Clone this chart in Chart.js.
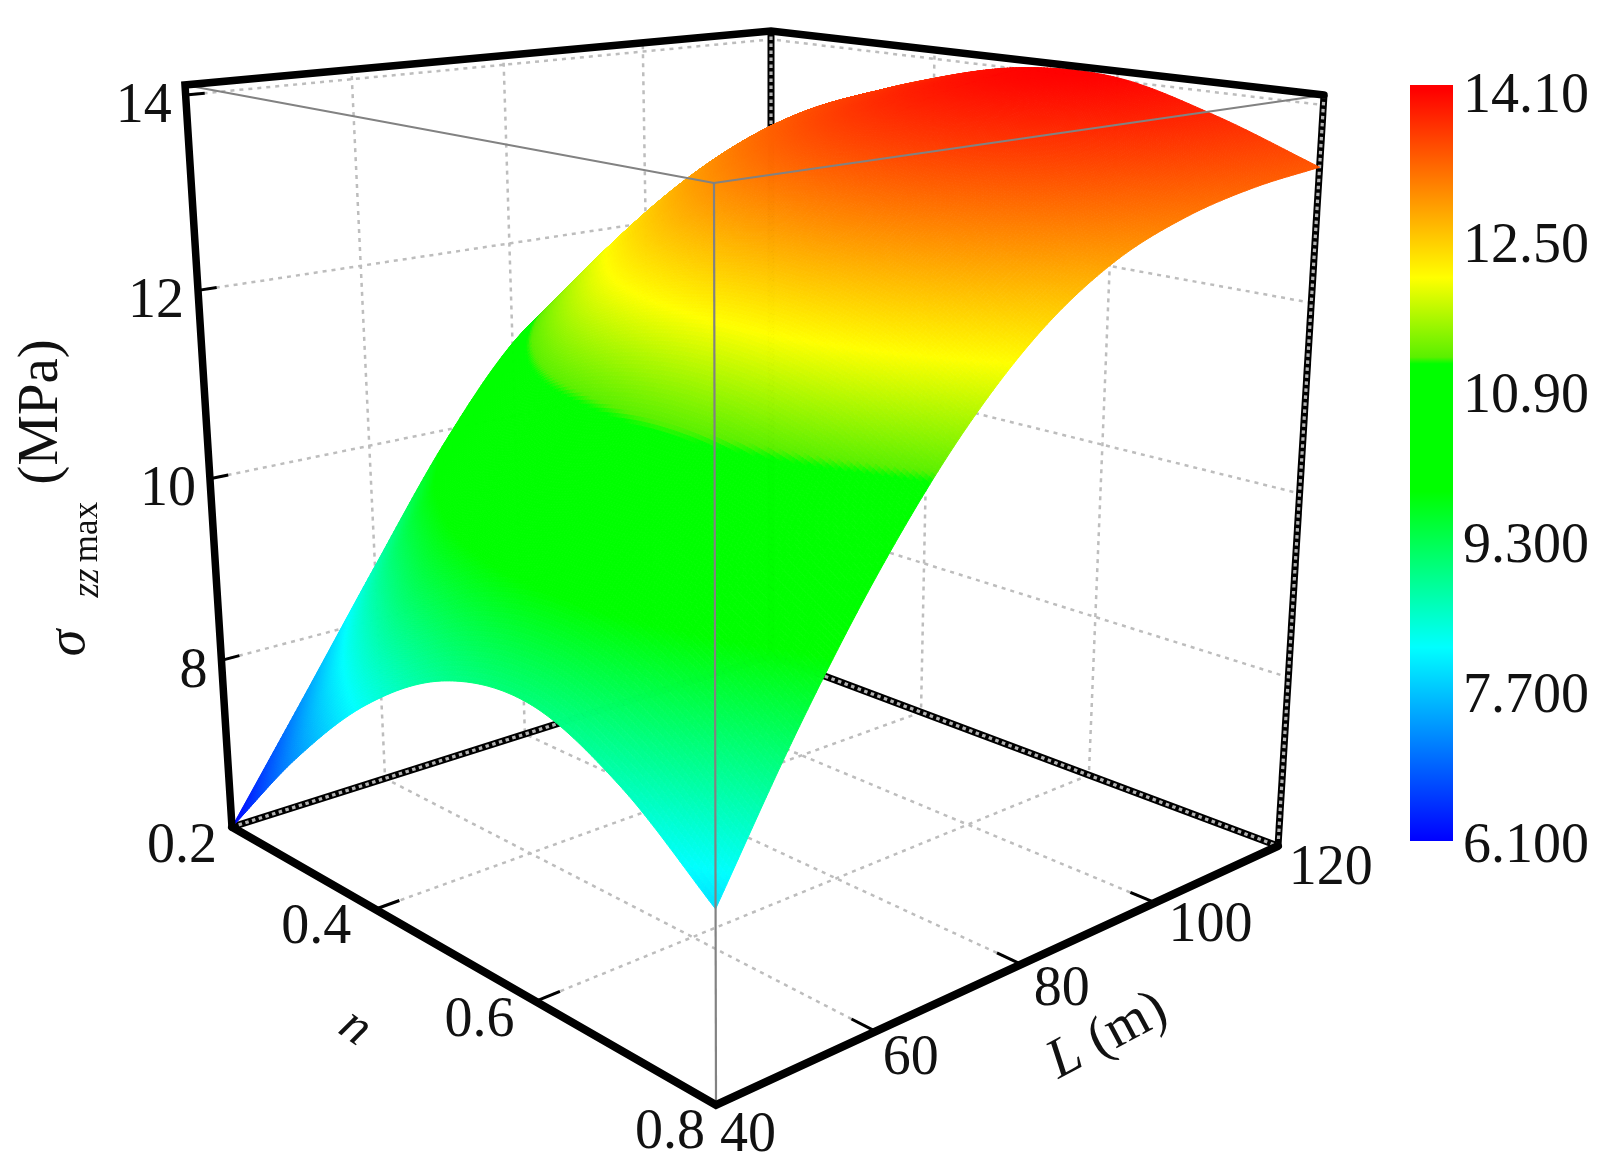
<!DOCTYPE html>
<html>
<head>
<meta charset="utf-8">
<style>
html, body { margin: 0; padding: 0; background: #fff; }
canvas { display: block; }
</style>
<script src="https://cdn.jsdelivr.net/npm/chart.js@4"></script>
</head>
<body>
<canvas id="surfaceChart" width="1616" height="1174"></canvas>
<script>
// grid the stress was read on
const lengths = [40, 50, 60, 70, 80, 90, 100, 110, 120];
const nValues = [0.2, 0.3, 0.4, 0.5, 0.6, 0.7, 0.8];

// sigma zz max (MPa), one row per n value, one column per length
const sigmaN02 = [6.10, 7.35, 8.62, 9.85, 10.85, 11.45, 11.95, 12.40, 12.75];
const sigmaN03 = [7.30, 8.62, 9.92, 11.00, 11.85, 12.50, 12.97, 13.27, 13.40];
const sigmaN04 = [8.27, 9.62, 10.78, 11.78, 12.55, 13.08, 13.45, 13.67, 13.78];
const sigmaN05 = [8.88, 10.10, 11.15, 12.15, 12.90, 13.40, 13.72, 13.92, 14.02];
const sigmaN06 = [9.02, 10.20, 11.22, 12.25, 13.00, 13.48, 13.76, 13.95, 14.03];
const sigmaN07 = [8.62, 9.92, 11.00, 12.02, 12.77, 13.26, 13.56, 13.72, 13.76];
const sigmaN08 = [7.90, 9.28, 10.50, 11.52, 12.30, 12.82, 13.12, 13.29, 13.38];
const sigmaRows = [sigmaN02, sigmaN03, sigmaN04, sigmaN05, sigmaN06, sigmaN07, sigmaN08];

const lTicks = [40, 60, 80, 100, 120];
const nTicks = [0.2, 0.4, 0.6, 0.8];
const zTicks = [8, 10, 12, 14];
const barTicks = ['14.10', '12.50', '10.90', '9.300', '7.700', '6.100'];

const lRange = [40, 120];
const nRange = [0.8, 0.2];
const zRange = [6.1, 14.1];

// corners of the box on the page, keyed L-end, n-end, z-end (near = 0, far = 1)
const box = {
    c000: [716, 1105], c100: [1278, 846], c010: [232, 827], c110: [771, 656],
    c001: [714, 183], c101: [1324, 95], c011: [185, 85], c111: [771, 31]
};
const perspective = { l: 1.19, n: 1.19, z: 0.93 };

const colorStops = [
    [6.1, '#0000ff'], [8.15, '#00ffff'], [9.8, '#00ff00'], [11.15, '#00ff00'],
    [11.22, '#5af000'], [12.06, '#ffff00'], [14.05, '#ff0000'], [14.1, '#ff0000']
];
const barBox = { left: 1410, right: 1453, top: 85, bottom: 841 };

// nudges for labels that do not sit at a constant distance from their tick
const nLabelShift = [[0, -2], [-9, -3], [-6, -2], [4, 6]];
const lLabelShift = [[0, 5], [0, 2], [2, 0], [0, -2], [-6, -3]];

const serif = '"Liberation Serif"';

function warp(t, g) {
    return g * t / (1 + (g - 1) * t);
}

function project(L, n, z) {
    const u = warp((L - lRange[0]) / (lRange[1] - lRange[0]), perspective.l);
    const v = warp((n - nRange[0]) / (nRange[1] - nRange[0]), perspective.n);
    const w = warp((z - zRange[0]) / (zRange[1] - zRange[0]), perspective.z);
    const out = [0, 1].map(k =>
        (1 - u) * (1 - v) * (1 - w) * box.c000[k] + u * (1 - v) * (1 - w) * box.c100[k] +
        (1 - u) * v * (1 - w) * box.c010[k] + u * v * (1 - w) * box.c110[k] +
        (1 - u) * (1 - v) * w * box.c001[k] + u * (1 - v) * w * box.c101[k] +
        (1 - u) * v * w * box.c011[k] + u * v * w * box.c111[k]);
    return { x: out[0], y: out[1] };
}

function catmull(a, b, c, d, t) {
    return b + 0.5 * t * (c - a + t * (2 * a - 5 * b + 4 * c - d + t * (3 * (b - c) + d - a)));
}

function pick(arr, i) {
    if (i < 0) return 2 * arr[0] - arr[1];
    if (i >= arr.length) return 2 * arr[arr.length - 1] - arr[arr.length - 2];
    return arr[i];
}

// smooth reading of the table between its nodes, only for shading the surface
function sigmaAt(L, n) {
    const fl = Math.min((L - lengths[0]) / 10, lengths.length - 1.0001);
    const fn = Math.min((n - nValues[0]) / 0.1, nValues.length - 1.0001);
    const il = Math.floor(fl), in_ = Math.floor(fn);
    const across = [-1, 0, 1, 2].map(dn => {
        const row = in_ + dn;
        const col = lengths.map((_, j) => pick(sigmaRows.map(r => r[j]), row));
        return catmull(pick(col, il - 1), pick(col, il), pick(col, il + 1), pick(col, il + 2), fl - il);
    });
    return catmull(across[0], across[1], across[2], across[3], fn - in_);
}

function colorFor(z) {
    const rgb = s => [1, 3, 5].map(i => parseInt(s.substr(i, 2), 16));
    for (let i = 1; i < colorStops.length; i++) {
        if (z <= colorStops[i][0]) {
            const t = Math.max(0, (z - colorStops[i - 1][0]) / (colorStops[i][0] - colorStops[i - 1][0]));
            const a = rgb(colorStops[i - 1][1]), b = rgb(colorStops[i][1]);
            return `rgb(${a.map((c, k) => Math.round(c + (b[k] - c) * t)).join(',')})`;
        }
    }
    return colorStops[colorStops.length - 1][1];
}

function line(points, color, width, order, dash) {
    return {
        data: points, showLine: true, pointRadius: 0, borderColor: color, borderWidth: width,
        borderDash: dash || [], order: order, borderCapStyle: 'butt'
    };
}

const [L0, L1] = lRange, [nNear, nFar] = nRange, [z0, z1] = zRange;
const datasets = [];
const gridStyle = ['#bdbdbd', 2.5, 50, [4, 5]];

// dotted grid on the floor and the two back walls
lTicks.slice(1, -1).forEach(L => {
    datasets.push(line([project(L, nNear, z0), project(L, nFar, z0), project(L, nFar, z1)], ...gridStyle));
});
nTicks.slice(1, -1).forEach(n => {
    datasets.push(line([project(L0, n, z0), project(L1, n, z0), project(L1, n, z1)], ...gridStyle));
});
zTicks.forEach(z => {
    datasets.push(line([project(L0, nFar, z), project(L1, nFar, z), project(L1, nNear, z)], ...gridStyle));
});

// back edges, black with a grey dotted line on top
const backEdges = [
    [project(L0, nFar, z0), project(L1, nFar, z0), project(L1, nNear, z0)],
    [project(L1, nFar, z0), project(L1, nFar, z1)],
    [project(L1, nNear, z0), project(L1, nNear, z1)]
];
backEdges.forEach(pts => {
    datasets.push(line(pts, '#b4b4b4', 3.2, 45, [3.5, 3.5]));
    datasets.push(line(pts, '#000', 7, 46));
});

// surface nodes, the plugin shades between them
const surfaceNodes = [];
sigmaRows.forEach((row, i) => row.forEach((z, j) => surfaceNodes.push(project(lengths[j], nValues[i], z))));
const surfaceSet = { data: surfaceNodes, pointRadius: 0, showLine: false, order: 30, isSurface: true };
datasets.push(surfaceSet);

// thin front edges run over the surface
datasets.push(line([project(L0, nFar, z1), project(L0, nNear, z1), project(L1, nNear, z1)], '#828282', 2.2, 20));
datasets.push(line([project(L0, nNear, z0), project(L0, nNear, z1)], '#828282', 2.2, 20));

// heavy outline and ticks
const heavyCorner = { borderCapStyle: 'round', borderJoinStyle: 'miter' };
datasets.push({ ...line([project(L0, nFar, z0), project(L0, nFar, z1), project(L1, nFar, z1), project(L1, nNear, z1)], '#000', 7.5, 10), ...heavyCorner });
datasets.push({ ...line([project(L0, nFar, z0), project(L0, nNear, z0), project(L1, nNear, z0)], '#000', 8, 10), ...heavyCorner });
zTicks.forEach(z => datasets.push(line([project(L0, nFar, z), project(L0 + 2.2, nFar, z)], '#000', 3, 11)));
nTicks.slice(1, -1).forEach(n => datasets.push(line([project(L0, n, z0), project(L0 + 3, n, z0)], '#000', 3, 11)));
lTicks.slice(1, -1).forEach(L => datasets.push(line([project(L, nNear, z0), project(L, nNear - 0.025, z0)], '#000', 3, 11)));

const surfacePlugin = {
    id: 'surface',
    afterDatasetDraw(chart, args) {
        if (!chart.data.datasets[args.index].isSurface) return;
        const ctx = chart.ctx, sx = chart.scales.x, sy = chart.scales.y;
        const stepsL = 240, stepsN = 180;
        // table of the finer surface, read once so each cell only looks it up
        const fine = [];
        for (let p = 0; p <= stepsL; p++) {
            const col = [];
            for (let q = 0; q <= stepsN; q++) {
                const L = L0 + (L1 - L0) * p / stepsL;
                const n = nFar + (nNear - nFar) * q / stepsN;
                const z = sigmaAt(L, n);
                const s = project(L, n, z);
                col.push({ x: sx.getPixelForValue(s.x), y: sy.getPixelForValue(s.y), z });
            }
            fine.push(col);
        }
        ctx.save();
        ctx.lineWidth = 1;
        ctx.lineJoin = 'round';
        // far corner first so the nearer cells cover it
        for (let a = stepsL - 1; a >= 0; a--) {
            for (let b = 0; b < stepsN; b++) {
                const cell = [fine[a][b], fine[a + 1][b], fine[a + 1][b + 1], fine[a][b + 1]];
                const col = colorFor((cell[0].z + cell[1].z + cell[2].z + cell[3].z) / 4);
                ctx.fillStyle = col;
                ctx.strokeStyle = col;
                ctx.beginPath();
                cell.forEach((c, k) => k ? ctx.lineTo(c.x, c.y) : ctx.moveTo(c.x, c.y));
                ctx.closePath();
                ctx.fill();
                ctx.stroke();
            }
        }
        ctx.restore();
    }
};

const labelPlugin = {
    id: 'labels',
    afterDraw(chart) {
        const ctx = chart.ctx, sx = chart.scales.x, sy = chart.scales.y;
        const text = (str, x, y, font, align, angle) => {
            ctx.save();
            ctx.translate(x, y);
            ctx.rotate((angle || 0) * Math.PI / 180);
            ctx.font = font;
            ctx.textAlign = align || 'center';
            ctx.textBaseline = 'middle';
            ctx.fillStyle = '#111';
            ctx.fillText(str, 0, 0);
            ctx.restore();
        };
        const tickFont = `56px ${serif}`;
        const at = p => [sx.getPixelForValue(p.x), sy.getPixelForValue(p.y)];

        zTicks.forEach(z => {
            const [x, y] = at(project(L0, nFar, z));
            text(String(z), x - 14, y + 12, tickFont, 'right');
        });
        nTicks.forEach((n, i) => {
            const [x, y] = at(project(L0, n, z0));
            text(n.toFixed(1), x - 50 + nLabelShift[i][0], y + 22 + nLabelShift[i][1], tickFont);
        });
        lTicks.forEach((L, i) => {
            const [x, y] = at(project(L, nNear, z0));
            text(String(L), x + 4 + i * 3.2 + lLabelShift[i][0], y + 26 + lLabelShift[i][1], tickFont, 'left');
        });

        // axis titles
        text('n', 355, 1028, `italic 52px ${serif}`, 'center', 35);
        ctx.save();
        ctx.translate(1108, 1036);
        ctx.rotate(-28 * Math.PI / 180);
        ctx.textBaseline = 'middle';
        ctx.fillStyle = '#111';
        ctx.textAlign = 'left';
        ctx.font = `italic 56px ${serif}`;
        ctx.fillText('L', -64, 0);
        ctx.font = `56px ${serif}`;
        ctx.fillText(' (m)', -32, 0);
        ctx.restore();
        text('(MPa)', 42, 412, `57px ${serif}`, 'center', -90);
        text('max', 88, 532, `35px ${serif}`, 'center', -90);
        text('zz', 88, 583, `italic 37px ${serif}`, 'center', -90);
        text('σ', 70, 643, `italic 54px ${serif}`, 'center', -90);

        // colour bar
        const barPx = v => barBox.bottom + (barBox.top - barBox.bottom) * (v - zRange[0]) / (zRange[1] - zRange[0]);
        const grad = ctx.createLinearGradient(0, barPx(zRange[0]), 0, barPx(zRange[1]));
        colorStops.forEach(s => grad.addColorStop((s[0] - zRange[0]) / (zRange[1] - zRange[0]), s[1]));
        ctx.fillStyle = grad;
        ctx.fillRect(barBox.left, barBox.top, barBox.right - barBox.left, barBox.bottom - barBox.top);
        barTicks.forEach((t, i) => {
            const v = zRange[1] - i * (zRange[1] - zRange[0]) / (barTicks.length - 1);
            text(t, 1589, barPx(v) + 12 - 1.2 * i, `56px ${serif}`, 'right');
        });
    }
};

new Chart(document.getElementById('surfaceChart').getContext('2d'), {
    type: 'scatter',
    data: { datasets },
    options: {
        responsive: false,
        animation: false,
        events: [],
        layout: { padding: 0 },
        plugins: { legend: { display: false }, tooltip: { enabled: false }, title: { display: false } },
        scales: {
            x: { type: 'linear', min: 0, max: 1616, display: false },
            y: { type: 'linear', min: 0, max: 1174, reverse: true, display: false }
        }
    },
    plugins: [surfacePlugin, labelPlugin]
});
</script>
</body>
</html>
